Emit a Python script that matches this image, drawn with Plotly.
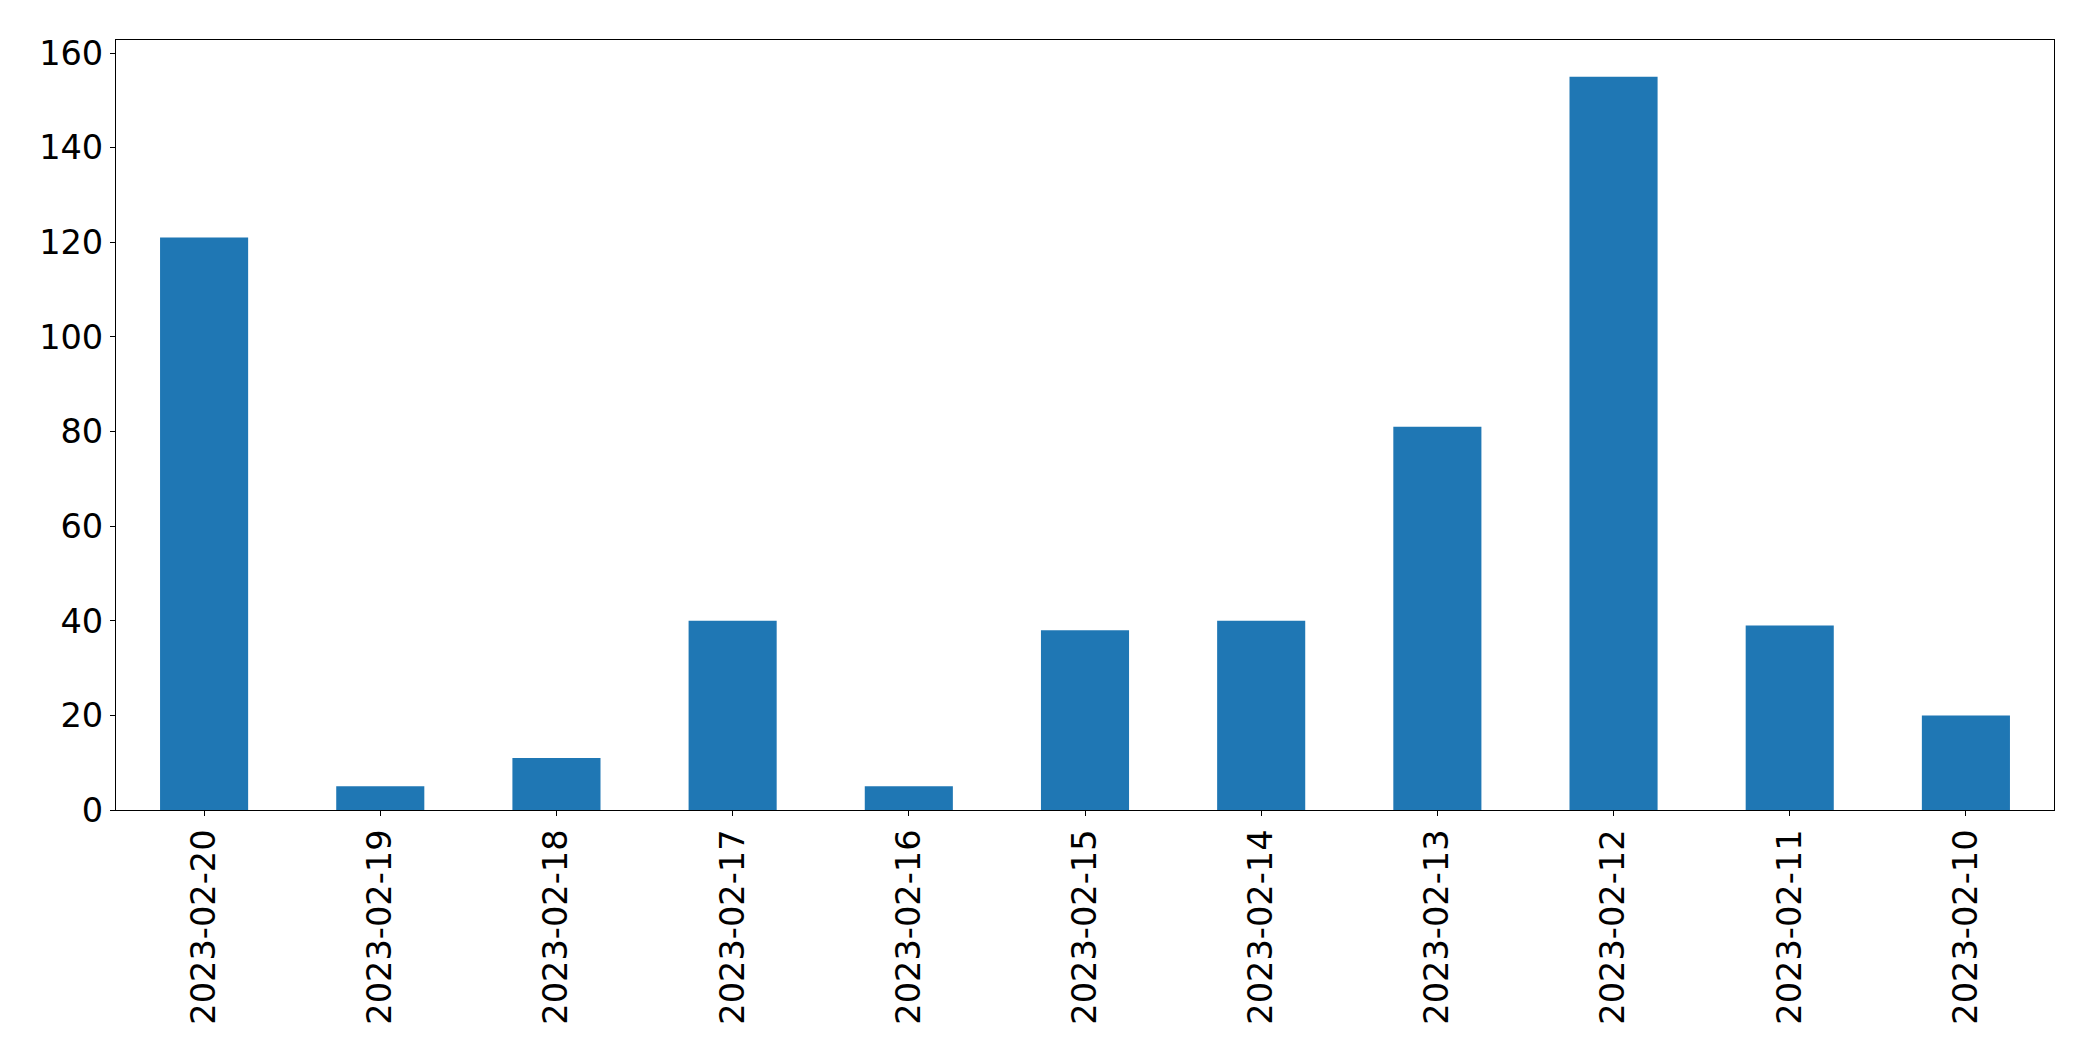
import plotly.graph_objects as go

dates = ["2023-02-20", "2023-02-19", "2023-02-18", "2023-02-17", "2023-02-16",
         "2023-02-15", "2023-02-14", "2023-02-13", "2023-02-12", "2023-02-11", "2023-02-10"]
counts = [121, 5, 11, 40, 5, 38, 40, 81, 155, 39, 20]
y_ticks = [0, 20, 40, 60, 80, 100, 120, 140, 160]

positions = list(range(len(dates)))

fig = go.Figure(go.Bar(
    x=positions, y=counts, width=0.5,
    marker=dict(color="#1f77b4", line=dict(width=0)),
))

font = dict(family="DejaVu Sans", size=33.6, color="black")
fig.update_layout(
    width=2093, height=1062,
    margin=dict(l=108, r=47, t=32, b=260),
    paper_bgcolor="white", plot_bgcolor="white",
    showlegend=False, font=font,
)
fig.update_xaxes(
    range=[-0.5, len(dates) - 0.5],
    tickmode="array", tickvals=positions, ticktext=dates,
    tickangle=-90, ticks="outside", ticklen=5, tickwidth=1.1, tickcolor="black",
    showline=True, linecolor="black", linewidth=1.1, mirror=True,
    showgrid=False, zeroline=False, tickfont=font,
)
fig.update_yaxes(
    range=[0, max(counts) * 1.05],
    tickmode="array", tickvals=y_ticks,
    ticks="outside", ticklen=5, tickwidth=1.1, tickcolor="black",
    showline=True, linecolor="black", linewidth=1.1, mirror=True,
    showgrid=False, zeroline=False, tickfont=font,
)
fig.write_html("out.html")
